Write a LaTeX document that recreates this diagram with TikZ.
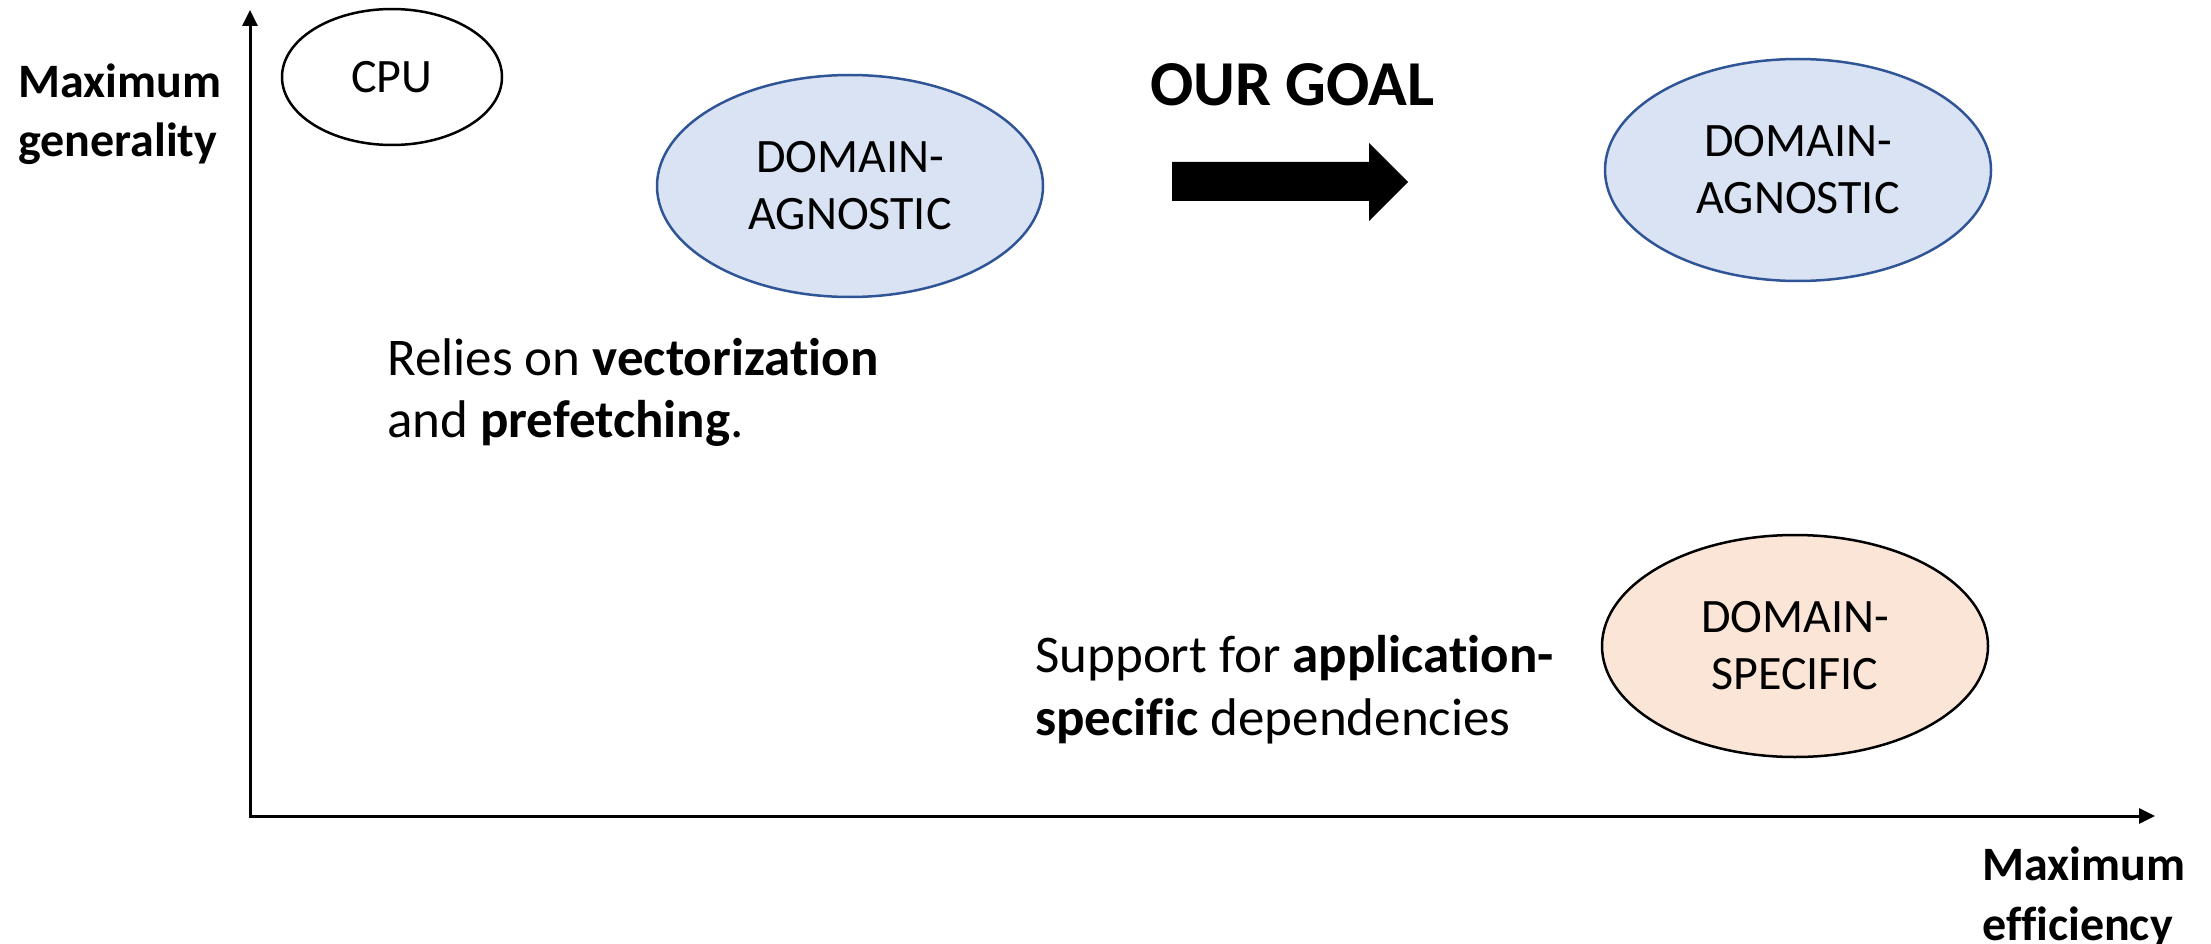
\documentclass[tikz,border=0pt]{standalone}
\usepackage{fontspec}
\setmainfont{Carlito}[Ligatures=NoCommon]
\usetikzlibrary{shapes.geometric,arrows.meta}
\definecolor{agnfill}{HTML}{DAE3F3}
\definecolor{agnline}{HTML}{2F5597}
\definecolor{specfill}{HTML}{FBE5D6}
\tikzset{
  bubble/.style={ellipse, draw, line width=2.5pt, minimum width=386pt, minimum height=222pt,
    inner sep=0pt, align=center, font=\fontsize{48}{57}\selectfont},
  agnostic/.style={bubble, draw=agnline, fill=agnfill},
  specific/.style={bubble, draw=black, fill=specfill},
  cpubox/.style={bubble, draw=black, minimum width=220pt, minimum height=136pt},
  axislabel/.style={anchor=base west, inner sep=0pt, font=\fontsize{48}{52}\selectfont\bfseries},
  body/.style={anchor=base west, inner sep=0pt, font=\fontsize{53}{63}\selectfont},
  goaltext/.style={anchor=base west, inner sep=0pt, font=\fontsize{64}{77}\selectfont\bfseries},
  axis/.style={line width=3pt, {Triangle[length=16pt,width=15pt]}-{Triangle[length=16pt,width=15pt]}},
}
\begin{document}
\begin{tikzpicture}[x=1pt,y=-1pt]
\useasboundingbox (0,0) rectangle (2211,944);

% axes
\coordinate (ytip) at (250,10);
\coordinate (origin) at (250,816);
\coordinate (xtip) at (2155,816);
\draw[axis] (ytip) -- (origin) -- (xtip);

% axis labels
\node[axislabel] (ylab1) at (18,98) {Maximum};
\node[axislabel] (ylab2) at (18,157) {generality};
\node[axislabel] (xlab1) at (1982,880) {Maximum};
\node[axislabel] (xlab2) at (1982,940) {efficiency};

% design points
\node[cpubox] (cpu) at (392,77) {CPU};
\node[agnostic] (agn) at (850,186) {DOMAIN-\\AGNOSTIC};
\node[agnostic] (goalagn) at (1798,170) {DOMAIN-\\AGNOSTIC};
\node[specific] (spec) at (1795,646) {DOMAIN-\\SPECIFIC};

% goal arrow
\node[goaltext] (goal) at (1150,106) {OUR GOAL};
\fill (1172,162) -- (1369,162) -- (1369,143) -- (1408,182) -- (1369,221)
  -- (1369,201) -- (1172,201) -- cycle;

% notes
\node[body] (rel1) at (387,375) {Relies on \textbf{vectorization}};
\node[body] (rel2) at (387,437) {and \textbf{prefetching}.};
\node[body] (sup1) at (1035,672) {Support for \textbf{application-}};
\node[body] (sup2) at (1035,735) {\textbf{specific} dependencies};
\end{tikzpicture}
\end{document}
